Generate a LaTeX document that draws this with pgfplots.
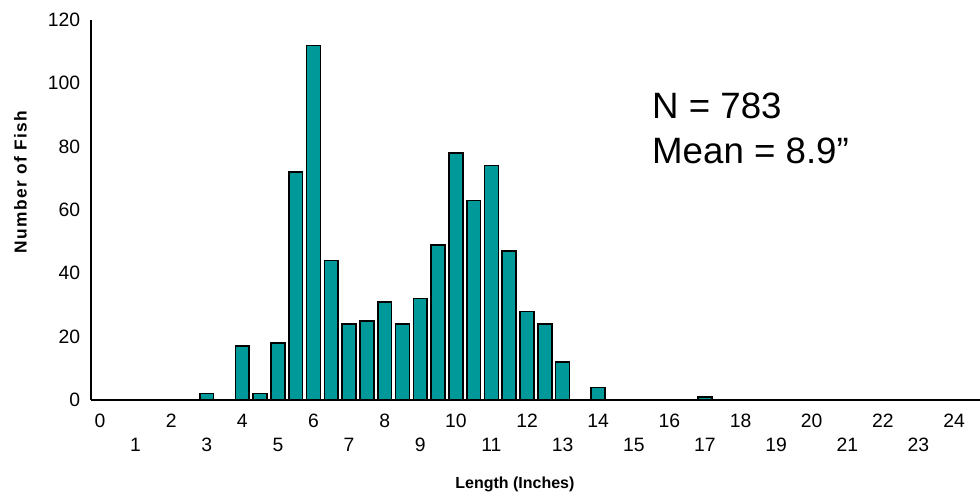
\documentclass[border=0pt]{standalone}
\usepackage{pgfplots}
\pgfplotsset{compat=1.18}
\usepackage{fontspec}
\setmainfont{Liberation Sans}
\usetikzlibrary{calc}
\definecolor{barteal}{RGB}{0,153,153}
\begin{document}
\begin{tikzpicture}
\begin{axis}[
  name=ax,
  scale only axis,
  width=666.75pt, height=285pt,
  xmin=-0.253, xmax=24.73,
  ymin=0, ymax=120,
  axis x line*=bottom, axis y line*=left,
  axis line style={-, line width=1.1pt},
  ytick={0,20,...,120},
  xtick={0,2,...,24},
  extra x ticks={1,3,...,23},
  extra x tick style={xticklabel style={yshift=-17.8pt}},
  major tick length=0pt,
  /pgf/number format/assume math mode=true,
  tick label style={font=\fontsize{14.5}{16}\selectfont},
  xticklabel style={anchor=base, inner sep=0pt, yshift=-21pt},
  yticklabel style={anchor=east, inner sep=0pt, xshift=-8pt},
  clip=false,
  ybar, bar width=0.39,
]
\addplot[fill=barteal, draw=black, line width=1.2pt] table {
x y
3 2
4 17
4.5 2
5 18
5.5 72
6 112
6.5 44
7 24
7.5 25
8 31
8.5 24
9 32
9.5 49
10 78
10.5 63
11 74
11.5 47
12 28
12.5 24
13 12
14 4
17 1
};
\node[anchor=base west, font=\fontsize{27.5}{32}\selectfont, inner sep=0pt] at (axis cs:15.51,89.05) {N = 783};
\node[anchor=base west, font=\fontsize{27.5}{32}\selectfont, inner sep=0pt] at (axis cs:15.51,74.8) {Mean = 8.9”};
\node[rotate=90, font=\bfseries\fontsize{13}{15}\selectfont\addfontfeature{LetterSpace=8}] at (axis cs:-2.234,68.8) {Number of Fish};
\node[font=\bfseries\fontsize{12}{14}\selectfont] at (axis cs:11.66,-26.8) {Length (Inches)};
\end{axis}
\pgfresetboundingbox
\path ($(ax.south west)+(-68.25pt,-73.5pt)$) rectangle ($(ax.north east)+(0pt,15pt)$);
\end{tikzpicture}
\end{document}
